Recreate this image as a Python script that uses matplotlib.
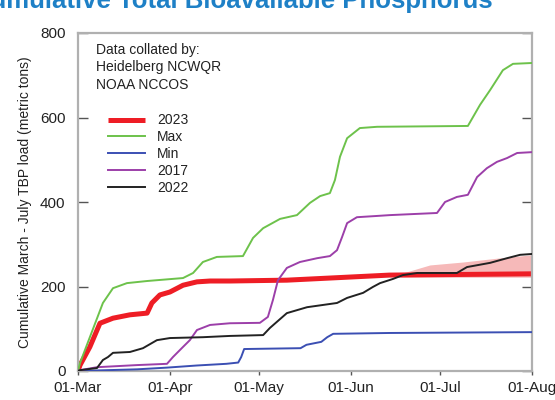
import numpy as np
import matplotlib
matplotlib.use("Agg")
import matplotlib.pyplot as plt
import matplotlib.dates as mdates

plt.rcParams["font.family"] = ["Liberation Sans", "DejaVu Sans"]

START = np.datetime64("2023-03-01T00:00")

# Cumulative TBP load (metric tons) against days since 01-Mar
max_days = [0, 0.7, 4, 8.4, 11.8, 16.5, 23.3, 35.4, 38.8, 42.1, 46.8, 55.6, 59, 62.4, 68.1,
            73.8, 78.2, 81.6, 84.9, 86.6, 88.3, 90.7, 95, 100.8, 131.4, 135.5, 138.9,
            143.2, 146.6, 153]
max_vals = [0, 19, 80, 161, 196, 208, 213, 220, 232, 258, 270, 272, 315, 338, 360,
            369, 398, 414, 421, 452, 507, 551, 575, 578, 580, 630, 665,
            712, 727, 729]

min_days = [0, 20, 30, 40, 50, 54, 55, 56, 75, 77, 82, 84, 86, 105, 153]
min_vals = [0, 4, 8, 13, 17, 20, 33, 52, 54, 62, 69, 80, 88, 90, 92]

y2017_days = [0, 0.7, 6.4, 19.9, 30, 32, 35.4, 37.7, 40.1, 44.5, 51.2, 61.3, 64, 65.7,
              67.4, 70.4, 74.8, 80.6, 84.9, 87.3, 89, 90.7, 94, 100.8, 105.2, 121,
              123.7, 127.7, 131.4, 134.5, 137.8, 141.2, 144.6, 148, 153]
y2017_vals = [0, 2, 9, 14, 17, 33, 57, 73, 97, 109, 113, 114, 128, 168,
              215, 244, 258, 267, 272, 286, 317, 350, 364, 367, 369, 374,
              400, 412, 417, 459, 480, 495, 504, 516, 518]

y2022_days = [0, 0.7, 6.4, 8.4, 10.1, 11.8, 17.5, 21.9, 26.6, 31, 42.1, 51.2, 62.4, 64.7,
              70.4, 77.2, 87.3, 90.7, 96.1, 99.4, 101.8, 106.2, 109.5, 114.3, 127.7,
              131.1, 138.9, 144.6, 149, 153]
y2022_vals = [0, 2, 7, 26, 33, 43, 45, 54, 73, 78, 80, 83, 85, 102,
              137, 151, 161, 173, 185, 199, 208, 218, 227, 232, 232,
              246, 256, 267, 275, 277]

y2023_days = [0, 0.7, 4, 7.4, 11.8, 17.5, 23.3, 24.9, 27.6, 31, 35.4, 40.1, 44.5, 51.2,
              70.4, 105, 153]
y2023_vals = [0, 14, 57, 113, 125, 133, 137, 161, 180, 187, 203, 211, 213, 213,
              215, 227, 230]

# Projected range for the rest of the season
proj_days = [108.5, 118.6, 129.8, 141.2, 153]
proj_low = [222, 222, 222, 222, 222]
proj_high = [230, 251, 258, 267, 275]

month_ticks = ["2023-03-01", "2023-04-01", "2023-05-01", "2023-06-01", "2023-07-01", "2023-08-01"]
y_ticks = [0, 200, 400, 600, 800]


def to_dates(days):
    mins = (np.asarray(days, dtype=float) * 1440).round().astype("int64")
    return START + mins.astype("timedelta64[m]")


fig = plt.figure(figsize=(5.55, 4.0), dpi=100)
ax = fig.add_axes([0.1405, 0.0725, 0.818, 0.845])

ax.fill_between(to_dates(proj_days), proj_low, proj_high, color="#f6b9b9", lw=0, zorder=1)
ax.plot(to_dates(max_days), max_vals, color="#6dc24b", lw=1.4, label="Max", zorder=3)
ax.plot(to_dates(min_days), min_vals, color="#3b4fb3", lw=1.4, label="Min", zorder=3)
ax.plot(to_dates(y2017_days), y2017_vals, color="#9c3fa9", lw=1.4, label="2017", zorder=3)
ax.plot(to_dates(y2022_days), y2022_vals, color="#222222", lw=1.4, label="2022", zorder=4)
ax.plot(to_dates(y2023_days), y2023_vals, color="#ee1d25", lw=3.6, label="2023",
        zorder=2, solid_capstyle="butt")

ax.set_xlim(np.datetime64(month_ticks[0]), np.datetime64(month_ticks[-1]))
ax.set_ylim(0, 800)
ax.set_xticks([np.datetime64(d) for d in month_ticks])
ax.xaxis.set_major_formatter(mdates.DateFormatter("%d-%b"))
ax.set_yticks(y_ticks)
ax.set_yticklabels([str(v) for v in y_ticks])

for s in ax.spines.values():
    s.set_color("#b0b0b0")
    s.set_linewidth(1.6)

ax.tick_params(axis="y", direction="in", length=7, width=1, color="#555555",
               labelsize=11, pad=9, right=True, labelcolor="#222222")
ax.tick_params(axis="x", direction="out", length=3, width=1, color="#555555",
               labelsize=11, pad=4, labelcolor="#222222")

ax.set_ylabel("Cumulative March - July TBP load (metric tons)", fontsize=10,
              color="#222222", labelpad=6)

ax.text(0.04, 0.97, "Data collated by:\nHeidelberg NCWQR\nNOAA NCCOS",
        transform=ax.transAxes, ha="left", va="top", fontsize=10,
        linespacing=1.3, color="#222222")

handles, labels = ax.get_legend_handles_labels()
order = [labels.index(n) for n in ["2023", "Max", "Min", "2017", "2022"]]
leg = ax.legend([handles[i] for i in order], [labels[i] for i in order],
                loc="upper left", bbox_to_anchor=(0.066, 0.762), frameon=False,
                fontsize=10, handlelength=2.7, handletextpad=0.85,
                labelspacing=0.2, borderpad=0, borderaxespad=0)
for t in leg.get_texts():
    t.set_color("#222222")

fig.text(0.888, 0.98, "Cumulative Total Bioavailable Phosphorus", ha="right",
         va="baseline", fontsize=18.5, fontweight="bold", color="#1e80c6")

fig.savefig("out.png", dpi=100)
